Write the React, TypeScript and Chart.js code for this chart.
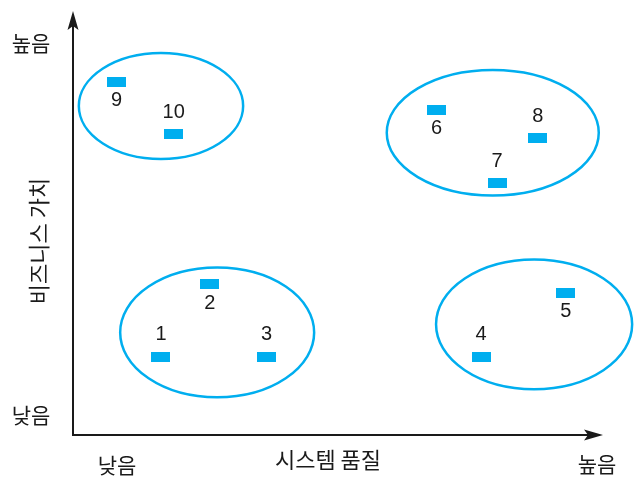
import React, { useEffect, useRef } from "react";
import { Chart, registerables } from "chart.js";

Chart.register(...registerables);

const categories = ["1", "2", "3", "4", "5", "6", "7", "8", "9", "10"];
const systemQuality = [16.6, 25.8, 36.5, 77.0, 93.0, 68.6, 80.0, 87.7, 8.2, 19.0];
const businessValue = [18.4, 35.5, 18.4, 18.4, 33.6, 76.7, 59.4, 70.0, 83.3, 70.9];
const labelBelow = [false, true, false, false, true, true, false, false, true, false];

const groupCenterX = [16.6, 79.2, 27.2, 87.0];
const groupCenterY = [77.6, 71.3, 24.2, 26.1];
const groupRadiusX = [15.5, 20.0, 18.3, 18.5];
const groupRadiusY = [12.5, 14.8, 15.3, 15.3];

const xTickLabels = ["낮음", "높음"];
const yTickLabels = ["낮음", "높음"];
const xTitle = "시스템 품질";
const yTitle = "비즈니스 가치";

const BLUE = "#00AEEF";
const KFONT = "'Noto Sans CJK KR', 'Noto Sans', sans-serif";

export default function App() {
  const ref = useRef<HTMLCanvasElement | null>(null);
  useEffect(() => {
    const canvas = ref.current!;
    const marker = document.createElement("canvas");
    marker.width = 19;
    marker.height = 10;
    const mctx = marker.getContext("2d")!;
    mctx.fillStyle = BLUE;
    mctx.fillRect(0, 0, 19, 10);

    const overlay = {
      id: "overlay",
      beforeDatasetsDraw(chart: any) {
        const { ctx, chartArea, scales } = chart;
        const xs = scales.x, ys = scales.y;
        ctx.save();
        ctx.strokeStyle = BLUE;
        ctx.lineWidth = 2.5;
        for (let i = 0; i < groupCenterX.length; i++) {
          const cx = xs.getPixelForValue(groupCenterX[i]);
          const cy = ys.getPixelForValue(groupCenterY[i]);
          const rx = Math.abs(xs.getPixelForValue(groupCenterX[i] + groupRadiusX[i]) - cx);
          const ry = Math.abs(ys.getPixelForValue(groupCenterY[i] + groupRadiusY[i]) - cy);
          ctx.beginPath();
          ctx.ellipse(cx, cy, rx, ry, 0, 0, Math.PI * 2);
          ctx.stroke();
        }
        const { left, right, top, bottom } = chartArea;
        ctx.strokeStyle = "#1a1a1a";
        ctx.fillStyle = "#1a1a1a";
        ctx.lineWidth = 2;
        ctx.beginPath();
        ctx.moveTo(left, top + 10);
        ctx.lineTo(left, bottom);
        ctx.lineTo(right - 10, bottom);
        ctx.stroke();
        ctx.beginPath();
        ctx.moveTo(left, top);
        ctx.lineTo(left - 5.5, top + 19);
        ctx.lineTo(left, top + 15);
        ctx.lineTo(left + 5.5, top + 19);
        ctx.closePath();
        ctx.fill();
        ctx.beginPath();
        ctx.moveTo(right, bottom);
        ctx.lineTo(right - 19, bottom - 5.5);
        ctx.lineTo(right - 15, bottom);
        ctx.lineTo(right - 19, bottom + 5.5);
        ctx.closePath();
        ctx.fill();
        ctx.fillStyle = "#1a1a1a";
        ctx.font = `21px ${KFONT}`;
        ctx.textAlign = "center";
        ctx.textBaseline = "middle";
        ctx.fillText(yTickLabels[1], 31, 43);
        ctx.fillText(yTickLabels[0], 31, 415);
        ctx.fillText(xTickLabels[0], 117, 465);
        ctx.fillText(xTickLabels[1], 597, 464);
        ctx.font = `22px ${KFONT}`;
        ctx.fillText(xTitle, 328, 460);
        ctx.save();
        ctx.translate(39, 241);
        ctx.rotate(-Math.PI / 2);
        ctx.fillText(yTitle, 0, 0);
        ctx.restore();
        ctx.restore();
      },
      afterDatasetsDraw(chart: any) {
        const { ctx } = chart;
        const meta = chart.getDatasetMeta(0);
        ctx.save();
        ctx.fillStyle = "#1a1a1a";
        ctx.font = "20px 'Liberation Sans Narrow', 'Liberation Sans', Arial, sans-serif";
        ctx.textAlign = "center";
        ctx.textBaseline = "middle";
        meta.data.forEach((el: any, i: number) => {
          const dy = labelBelow[i] ? 19 : -22;
          ctx.fillText(categories[i], el.x, el.y + dy);
        });
        ctx.restore();
      },
    };

    const chart = new Chart(canvas, {
      type: "scatter",
      data: {
        labels: categories,
        datasets: [
          {
            data: systemQuality.map((x, i) => ({ x, y: businessValue[i] })),
            pointStyle: marker as any,
            pointRadius: 10,
            clip: false as any,
          },
        ],
      },
      options: {
        responsive: false,
        animation: false,
        layout: { padding: { left: 73, right: 38, top: 10, bottom: 48 } },
        scales: {
          x: { type: "linear", min: 0, max: 100, display: false },
          y: { type: "linear", min: 0, max: 100, display: false },
        },
        plugins: { legend: { display: false }, tooltip: { enabled: false } },
      },
      plugins: [overlay],
    });
    return () => chart.destroy();
  }, []);
  return (
    <div style={{ position: "fixed", left: 0, top: 0, width: 641, height: 483, background: "#fff" }}>
      <canvas ref={ref} width={641} height={483} style={{ width: 641, height: 483 }} />
    </div>
  );
}
